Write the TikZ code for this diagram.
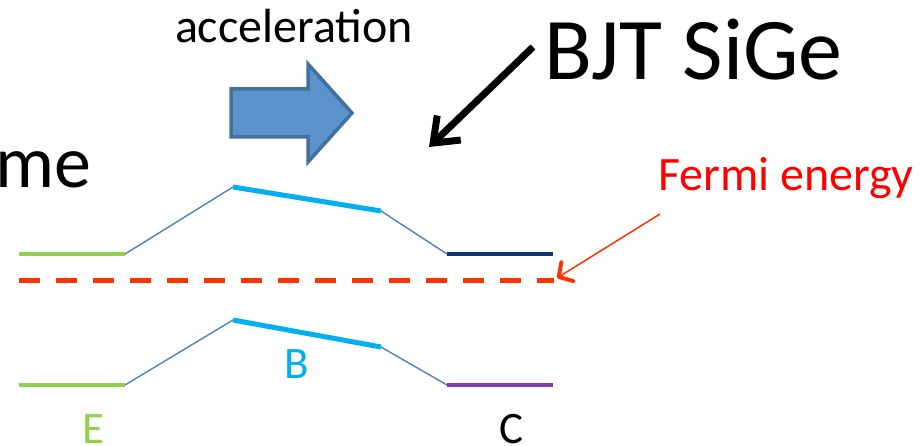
\documentclass[tikz,border=0pt]{standalone}
\usepackage{fontspec}
\setmainfont{Carlito}
\usetikzlibrary{arrows.meta}
\definecolor{egreen}{HTML}{92D050}
\definecolor{bcyan}{HTML}{00B0F0}
\definecolor{thinblue}{HTML}{4F81BD}
\definecolor{cnavy}{HTML}{0F3472}
\definecolor{cpurple}{HTML}{7F3FA8}
\definecolor{fermired}{HTML}{FF3300}
\definecolor{arrowfill}{HTML}{5C92CB}
\definecolor{arrowdraw}{HTML}{41719C}
\tikzset{
  lvl/.style={line width=4.5pt},
  slope/.style={thinblue, line width=1.4pt},
  base/.style={line width=5pt, bcyan},
  txt/.style={inner sep=0pt, outer sep=0pt},
}
\begin{document}
\begin{tikzpicture}[x=1pt,y=-1pt]
\useasboundingbox (0,0) rectangle (923,446);
% texts
\node[txt, anchor=base east, font=\fontsize{74}{80}\selectfont] (me) at (91,188) {me};
\node[txt, anchor=base west, font=\fontsize{48}{52}\selectfont] (acc) at (175,43) {acceleration};
\node[txt, anchor=base west, font=\fontsize{88}{96}\selectfont] (bjt) at (544,80) {BJT SiGe};
\node[txt, anchor=base west, text=red, font=\fontsize{48}{52}\selectfont] (fermi) at (658,191) {Fermi energy};
\node[txt, anchor=base, text=bcyan, font=\fontsize{45}{50}\selectfont] (B) at (297,378) {B};
\node[txt, anchor=base, text=egreen, font=\fontsize{45}{50}\selectfont] (E) at (93,443) {E};
\node[txt, anchor=base, text=black, font=\fontsize{45}{50}\selectfont] (C) at (511,443) {C};
% fat arrow
\draw[fill=arrowfill, draw=arrowdraw, line width=3.5pt, line join=miter]
  (231,89) -- (308,89) -- (308,64) -- (352,113) -- (308,162) -- (308,137) -- (231,137) -- cycle;
% upper band
\coordinate (u1) at (19,254);
\coordinate (u2) at (125,254);
\coordinate (u3) at (233,187);
\coordinate (u4) at (381,211);
\coordinate (u5) at (447,254);
\coordinate (u6) at (553,254);
\draw[lvl, egreen] (u1) -- (u2);
\draw[slope] (u2) -- (u3);
\draw[base] (u3) -- (u4);
\draw[slope] (u4) -- (u5);
\draw[lvl, cnavy] (u5) -- (u6);
% lower band
\coordinate (l1) at (19,385);
\coordinate (l2) at (125,385);
\coordinate (l3) at (233,320);
\coordinate (l4) at (381,347);
\coordinate (l5) at (447,385);
\coordinate (l6) at (553,385);
\draw[lvl, egreen] (l1) -- (l2);
\draw[slope] (l2) -- (l3);
\draw[base] (l3) -- (l4);
\draw[slope] (l4) -- (l5);
\draw[lvl, cpurple] (l5) -- (l6);
% fermi level
\coordinate (f1) at (19,280);
\coordinate (f2) at (554,280);
\draw[fermired, line width=5pt, dash pattern=on 21pt off 16pt] (f1) -- (f2);
% fermi pointer
\coordinate (fa) at (660,214);
\coordinate (fb) at (557,278);
\draw[fermired, line width=1.5pt, -{Straight Barb[length=10pt,width=22pt,line width=4pt,round]}] (fa) -- (fb);
% BJT pointer
\coordinate (ba) at (533,47);
\coordinate (bb) at (429,147);
\draw[black, line width=7pt, -{Straight Barb[length=22pt,width=34pt,line width=7pt]}] (ba) -- (bb);
\end{tikzpicture}
\end{document}
